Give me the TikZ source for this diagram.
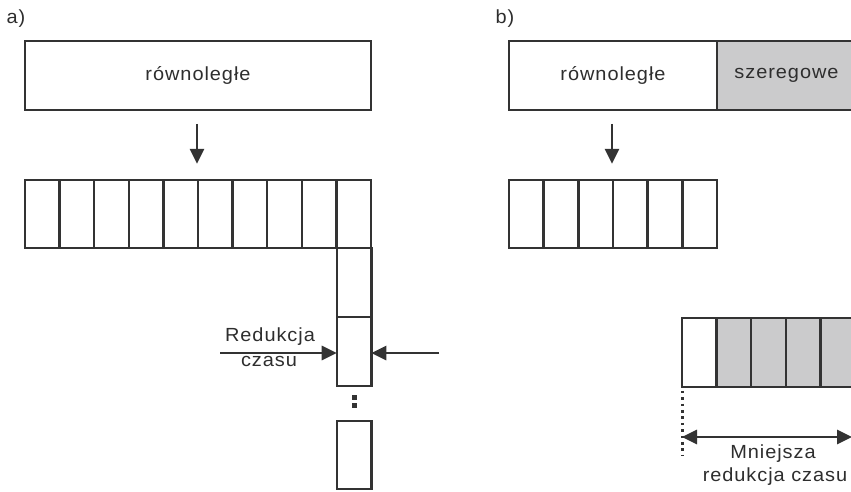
\documentclass[tikz,border=0pt]{standalone}
\usepackage{fontspec}
\setmainfont{Liberation Sans}[FakeStretch=1.05,LetterSpace=5]
\usetikzlibrary{arrows.meta}
\definecolor{ink}{HTML}{333333}
\definecolor{txt}{HTML}{2E2E2E}
\definecolor{shade}{HTML}{CBCBCC}
\tikzset{
  box/.style={draw=ink,line width=2.4pt,fill=white,inner sep=0pt,outer sep=0pt,minimum width=#1,minimum height=68.5pt,text=txt},
  cell/.style={box=34.6pt},
  gcell/.style={box=34.6pt,fill=shade},
  arr/.style={draw=ink,line width=2.8pt,-{Triangle[length=15pt,width=14pt]}},
  darr/.style={draw=ink,line width=2.8pt,{Triangle[length=15pt,width=14pt]}-{Triangle[length=15pt,width=14pt]}},
  lbl/.style={text=txt,inner sep=0pt,font=\fontsize{19pt}{22pt}\selectfont},
  dotline/.style={draw=ink,line width=3pt,dash pattern=on 2.6pt off 3.8pt}
}
\begin{document}
\begin{tikzpicture}[x=1pt,y=-1pt]
\useasboundingbox (0,0) rectangle (851,491);
\clip (0,0) rectangle (851,491);
\fill[white] (0,0) rectangle (851,491);
% ---------- panel a ----------
\node[lbl] (la) at (16,19) {a)};
\node[box=346pt,font=\fontsize{19pt}{22pt}\selectfont] (topa) at (198,75.5) {równoległe};
\foreach \i in {0,...,9}{
  \node[cell] (a\i) at ({25+34.6*\i+17.3},214) {};
}
\node[cell] (c1) at (354,282.5) {};
\node[cell] (c2) at (354,351.5) {};
\node[cell] (c3) at (354,455) {};
\fill[ink] (351.5,395) rectangle (356.5,400);
\fill[ink] (351.5,403) rectangle (356.5,408);
\draw[arr] ([xshift=-1pt,yshift=-14pt]topa.south) -- ([xshift=-1pt,yshift=16pt]topa.south |- a5.north);
\coordinate (la1) at (220,353);
\coordinate (ra1) at (439,353);
\draw[arr] (la1) -- (la1 -| c2.west);
\draw[arr] (ra1) -- (ra1 -| c2.east);
\node[lbl] (red) at (270,337) {Redukcja};
\node[lbl] (cz) at (269,361) {czasu};
% ---------- panel b ----------
\node[lbl] (lb) at (505,19) {b)};
\node[box=208pt,font=\fontsize{19pt}{22pt}\selectfont] (topb) at (613,75.5) {równoległe};
\node[box=139pt,fill=shade,font=\fontsize{19pt}{22pt}\selectfont] (sz) at (786.5,75.5) {szeregowe};
\foreach \i in {0,...,5}{
  \node[cell] (b\i) at ({509+34.67*\i+17.33},214) {};
}
\draw[arr] ([xshift=-1pt,yshift=-14pt]topb.south) -- ([xshift=-1pt,yshift=16pt]topb.south |- b3.north);
\node[cell] (d0) at ({682+17.3},352.5) {};
\foreach \i in {1,...,4}{
  \node[gcell] (d\i) at ({682+34.6*\i+17.3},352.5) {};
}
\coordinate (dt) at (682,456);
\draw[dotline] ([yshift=-4pt]d0.south west) -- (dt);
\coordinate (l2) at (682,437);
\coordinate (r2) at (852,437);
\draw[darr] (l2) -- (r2);
\node[lbl] (mn) at (773,454) {Mniejsza};
\node[lbl] (rc) at (775,477) {redukcja czasu};
\end{tikzpicture}
\end{document}
